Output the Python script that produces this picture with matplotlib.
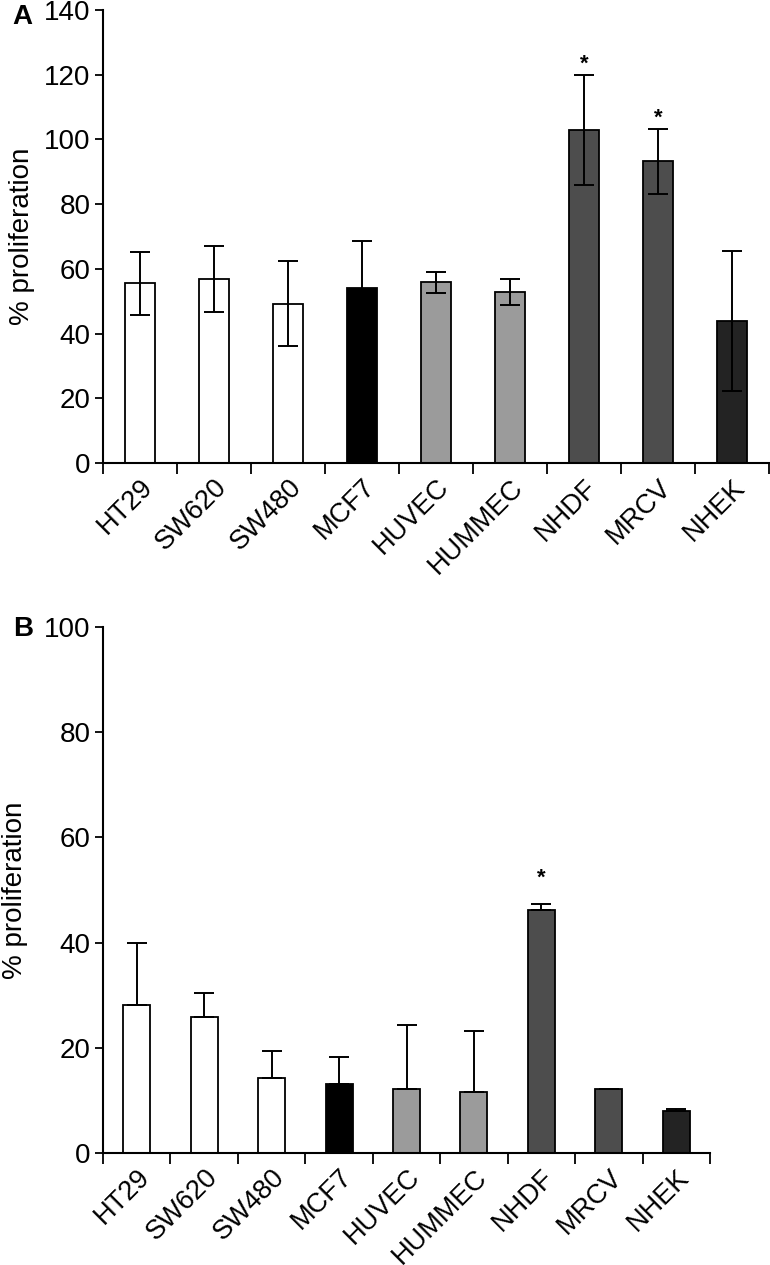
import numpy as np
import matplotlib.pyplot as plt
import matplotlib.transforms as mtrans

plt.rcParams['font.family'] = ['Liberation Sans', 'DejaVu Sans']

cells = ["HT29", "SW620", "SW480", "MCF7", "HUVEC", "HUMMEC", "NHDF", "MRCV", "NHEK"]
colors = ["white", "white", "white", "black", "#9b9b9b", "#9b9b9b", "#4d4d4d", "#4d4d4d", "#232323"]

# panel A
prolif_a = [55.5, 56.9, 49.2, 54.0, 55.8, 52.9, 102.8, 93.2, 43.9]
err_a = [9.7, 10.3, 13.1, 14.7, 3.2, 4.0, 17.0, 10.0, 21.5]
star_a = [False, False, False, False, False, False, True, True, False]

# panel B
prolif_b = [28.2, 25.8, 14.2, 13.2, 12.1, 11.6, 46.2, 12.1, 7.9]
err_b = [11.8, 4.7, 5.2, 5.0, 12.2, 11.6, 1.1, 0.1, 0.4]
star_b = [False, False, False, False, False, False, True, False, False]

W, H = 770, 1265
fig = plt.figure(figsize=(W/100, H/100), dpi=100)

def px_axes(left, top, right, bottom):
   return fig.add_axes([left/W, 1 - bottom/H, (right-left)/W, (bottom-top)/H])

def panel(ax, vals, errs, stars, ymax, lower, star_off, ylab_x):
   x = np.arange(len(cells))
   ax.bar(x, vals, width=0.4, color=colors, edgecolor="black", linewidth=1.3, zorder=2)
   if lower:
      yerr = [errs, errs]
   else:
      yerr = [np.zeros(len(errs)), errs]
   ax.errorbar(x, vals, yerr=yerr, fmt="none", ecolor="black", elinewidth=1.4,
               capsize=7, capthick=1.4, zorder=3)
   for i in range(len(cells)):
      if stars[i]:
         ax.text(x[i], vals[i] + errs[i] + star_off, "*", ha="center", va="center",
                 fontsize=16, fontweight="bold")

   ax.set_xlim(-0.5, len(cells) - 0.5)
   ax.set_ylim(0, ymax)
   ax.set_yticks(np.arange(0, ymax + 1, 20))
   ax.set_xticks(x)
   ax.set_xticks(np.arange(len(cells) + 1) - 0.5, minor=True)
   ax.set_xticklabels(cells, rotation=45, ha="right", rotation_mode="anchor", fontsize=19.5)
   off = mtrans.ScaledTranslation(8/72, -4/72, fig.dpi_scale_trans)
   for lab in ax.get_xticklabels():
      lab.set_transform(lab.get_transform() + off)
   ax.tick_params(axis="x", which="major", length=0, pad=8)
   ax.tick_params(axis="x", which="minor", length=8, width=1.3, direction="out")
   ax.tick_params(axis="y", length=6, width=1.3, labelsize=20, pad=3)

   for s in ["top", "right"]:
      ax.spines[s].set_visible(False)
   for s in ["left", "bottom"]:
      ax.spines[s].set_linewidth(1.5)

   ax.set_ylabel("% proliferation", fontsize=20)
   ax.yaxis.set_label_coords(ylab_x, 0.5)

ax_a = px_axes(103, 10, 769, 463)
panel(ax_a, prolif_a, err_a, star_a, 140, True, 3.5, -0.102)

ax_b = px_axes(103, 627, 710, 1153)
panel(ax_b, prolif_b, err_b, star_b, 100, False, 5, -0.124)

# panel letters
fig.text(12/W, 1 - 17/H, "A", fontsize=20, fontweight="bold", ha="left", va="center")
fig.text(13/W, 1 - 629/H, "B", fontsize=20, fontweight="bold", ha="left", va="center")

fig.savefig("out.png", dpi=100)
